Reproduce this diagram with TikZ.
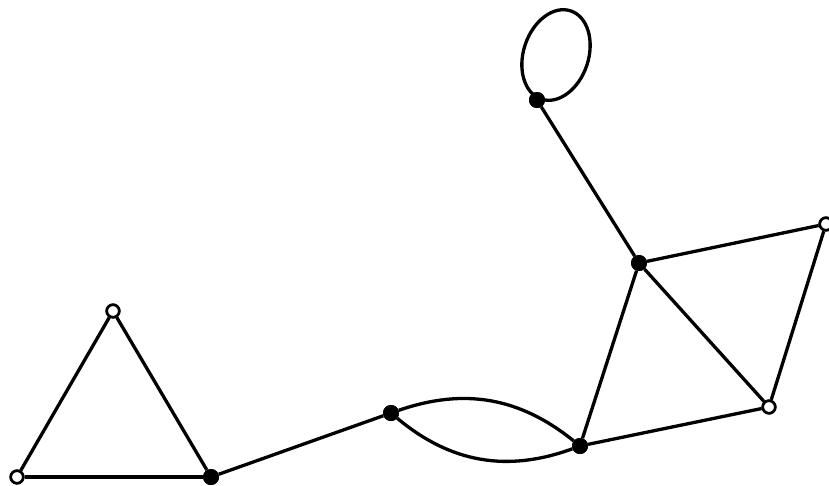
\documentclass[tikz,border=0pt]{standalone}
\begin{document}
\begin{tikzpicture}[x=1pt,y=-1pt,
  edge/.style={line width=3.3pt},
  opennode/.style={circle,draw,fill=white,line width=2.6pt,minimum size=12.5pt,inner sep=0pt},
  fullnode/.style={circle,fill=black,minimum size=16pt,inner sep=0pt}]
\useasboundingbox (0,0) rectangle (829,485);
\coordinate (Lc) at (556,55);
\node[opennode] (A) at (113,311) {};
\node[opennode] (B) at (17,477) {};
\node[fullnode] (C) at (211,477) {};
\node[fullnode] (D) at (391,413) {};
\node[fullnode] (E) at (580,446) {};
\node[fullnode] (F) at (639,263) {};
\node[opennode] (G) at (769,407) {};
\node[opennode] (H) at (826,224) {};
\node[fullnode] (I) at (537,100) {};
\draw[edge] (A) -- (B);
\draw[edge] (A) -- (C);
\draw[edge] (B) -- (C);
\draw[edge] (C) -- (D);
\draw[edge] (D) to[bend left=29] (E);
\draw[edge] (D) to[bend right=30] (E);
\draw[edge] (E) -- (F);
\draw[edge] (E) -- (G);
\draw[edge] (F) -- (G);
\draw[edge] (F) -- (H);
\draw[edge] (G) -- (H);
\draw[edge] (F) -- (I);
\draw[edge,rotate around={71.6:(Lc)}] (Lc) ellipse [x radius=46.5, y radius=32.5];
\node[opennode] at (A) {};
\node[opennode] at (B) {};
\node[fullnode] at (C) {};
\node[fullnode] at (D) {};
\node[fullnode] at (E) {};
\node[fullnode] at (F) {};
\node[opennode] at (G) {};
\node[opennode] at (H) {};
\node[fullnode] at (I) {};
\end{tikzpicture}
\end{document}
